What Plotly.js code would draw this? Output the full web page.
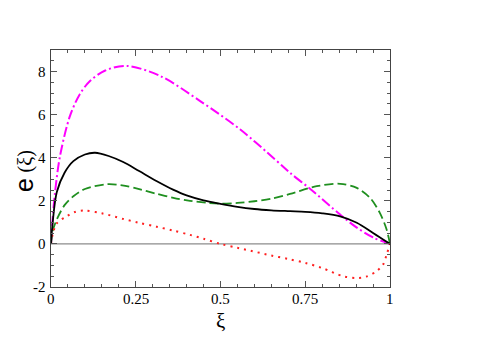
<!DOCTYPE html>
<html>
<head>
<meta charset="utf-8">
<script src="https://cdn.plot.ly/plotly-3.0.1.min.js"></script>
<style>
  html, body { margin: 0; padding: 0; background: #fff; }
  #chart { width: 480px; height: 339px; }
</style>
</head>
<body>
<div id="chart"></div>
<script>
// values
const xiBlack = [0, 0.005, 0.017, 0.04, 0.066, 0.1, 0.13, 0.17, 0.213, 0.26, 0.311, 0.36, 0.4, 0.45, 0.5, 0.55, 0.6, 0.65, 0.705, 0.75, 0.8, 0.853, 0.902, 0.95, 1];
const eBlack  = [0, 1.0, 2.4, 3.3, 3.84, 4.15, 4.23, 4.08, 3.8, 3.38, 2.92, 2.52, 2.25, 2.02, 1.86, 1.72, 1.62, 1.56, 1.52, 1.49, 1.42, 1.28, 0.98, 0.51, 0];

const xiGreen = [0, 0.005, 0.017, 0.04, 0.066, 0.1, 0.164, 0.21, 0.263, 0.31, 0.361, 0.41, 0.459, 0.5, 0.55, 0.6, 0.65, 0.705, 0.784, 0.853, 0.902, 0.941, 0.97, 0.99, 1];
const eGreen  = [0, 0.6, 1.13, 1.8, 2.21, 2.55, 2.77, 2.72, 2.53, 2.33, 2.14, 2.0, 1.91, 1.87, 1.9, 1.98, 2.1, 2.32, 2.68, 2.79, 2.6, 2.14, 1.44, 0.67, 0];

const xiMagenta = [0, 0.005, 0.012, 0.0265, 0.056, 0.085, 0.115, 0.16, 0.223, 0.3215, 0.44, 0.5575, 0.661, 0.705, 0.764, 0.853, 0.9, 0.95, 1];
const eMagenta  = [0, 1.2, 2.4, 4.07, 5.94, 6.95, 7.56, 8.05, 8.26, 7.8, 6.63, 5.32, 3.92, 3.3, 2.56, 1.36, 0.78, 0.3, 0];

const xiRed = [0, 0.005, 0.017, 0.046, 0.07, 0.1, 0.15, 0.213, 0.26, 0.311, 0.36, 0.41, 0.45, 0.5, 0.55, 0.587, 0.65, 0.7, 0.75, 0.8, 0.862, 0.902, 0.93, 0.96, 0.98, 0.99, 1];
const eRed  = [0, 0.45, 0.95, 1.28, 1.48, 1.55, 1.42, 1.16, 0.98, 0.8, 0.62, 0.42, 0.24, 0.0, -0.18, -0.31, -0.54, -0.7, -0.88, -1.12, -1.5, -1.58, -1.52, -1.27, -0.95, -0.5, 0];

const xTickVals = [0, 0.25, 0.5, 0.75, 1];
const xTickText = ['0', '0.25', '0.5', '0.75', '1'];
const yTickVals = [-2, 0, 2, 4, 6, 8];
const yTickText = ['-2', '0', '2', '4', '6', '8'];

const serif = 'Liberation Serif';

function curve(x, y, color, dash, width) {
    return {
        x: x, y: y,
        mode: 'lines',
        line: { color: color, dash: dash, width: width, shape: 'spline', smoothing: 0.9 },
        hoverinfo: 'skip',
        showlegend: false
    };
}

// zero line drawn as a trace so it sits under the curves
const zeroLine = {
    x: [0, 1], y: [0, 0], mode: 'lines',
    line: { color: '#8c8c8c', width: 1.2 },
    hoverinfo: 'skip', showlegend: false
};

const traces = [
    zeroLine,
    curve(xiMagenta, eMagenta, '#ff00ff', '10px,3px,2px,3px', 2),
    curve(xiGreen, eGreen, '#1f8f1f', '9px,4px', 1.8),
    curve(xiRed, eRed, '#ff2020', '2px,5px', 2),
    curve(xiBlack, eBlack, '#000000', 'solid', 1.8)
];

// tick labels font family was ignored on the axes here, so labels go in as annotations
// placed on the same axis scales
const tickFont = { family: serif, size: 15, color: '#000' };
const xLabels = xTickVals.map((v, i) => ({
    xref: 'x', x: v, yref: 'paper', y: 0,
    text: xTickText[i], showarrow: false,
    xanchor: 'center', yanchor: 'top', yshift: -2,
    font: tickFont
}));
const yLabels = yTickVals.map((v, i) => ({
    xref: 'paper', x: 0, yref: 'y', y: v,
    text: yTickText[i], showarrow: false,
    xanchor: 'right', yanchor: 'middle', xshift: -3,
    font: tickFont
}));
const titles = [
    { xref: 'paper', x: 0.5, yref: 'paper', y: 0, yshift: -34, text: 'ξ', showarrow: false,
      xanchor: 'center', yanchor: 'middle', font: { family: serif, size: 21, color: '#000' } },
    { xref: 'paper', x: 0, xshift: -27, yref: 'paper', y: 0.43, text: 'e', showarrow: false, textangle: -90,
      xanchor: 'center', yanchor: 'middle', font: { family: 'Liberation Sans', size: 25, color: '#000' } },
    { xref: 'paper', x: 0, xshift: -26, yref: 'paper', y: 0.53, text: '(ξ)', showarrow: false, textangle: -90,
      xanchor: 'center', yanchor: 'middle', font: { family: serif, size: 20, color: '#000' } }
];

const axisCommon = {
    showgrid: false,
    zeroline: false,
    showline: true,
    linecolor: '#444',
    linewidth: 1.2,
    mirror: 'allticks',
    ticks: 'inside',
    ticklen: 6,
    tickwidth: 1,
    tickcolor: '#555',
    showticklabels: false
};

const layout = {
    width: 480,
    height: 339,
    margin: { l: 51, r: 90, t: 50, b: 52 },
    paper_bgcolor: '#fff',
    plot_bgcolor: '#fff',
    xaxis: Object.assign({}, axisCommon, {
        range: [0, 1],
        tickmode: 'array',
        tickvals: xTickVals,
        minor: { dtick: 0.05, ticks: 'inside', ticklen: 3, tickcolor: '#555' }
    }),
    yaxis: Object.assign({}, axisCommon, {
        range: [-2, 9],
        tickmode: 'array',
        tickvals: yTickVals,
        minor: { dtick: 0.5, ticks: 'inside', ticklen: 3, tickcolor: '#555' }
    }),
    annotations: xLabels.concat(yLabels, titles)
};

Plotly.newPlot('chart', traces, layout, { displayModeBar: false, staticPlot: true });
</script>
</body>
</html>
